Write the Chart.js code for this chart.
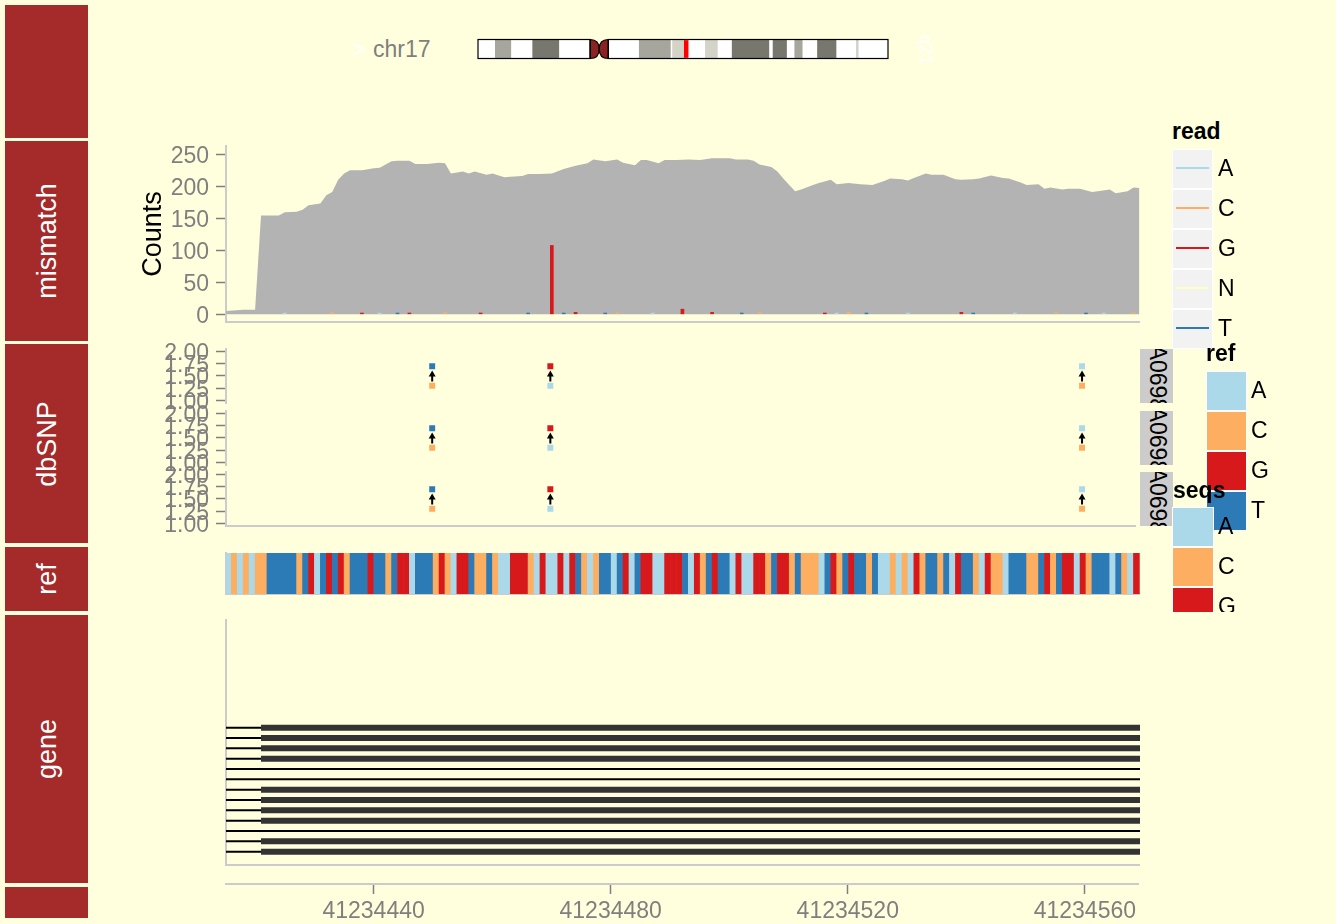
<!DOCTYPE html>
<html>
<head>
<meta charset="utf-8">
<title>chr17 tracks</title>
<script src="https://cdn.jsdelivr.net/npm/chart.js@4.4.1/dist/chart.umd.min.js"></script>
<style>
  html, body { margin: 0; padding: 0; background: #FFFFDD; }
  #wrap { position: relative; width: 1336px; height: 924px; overflow: hidden; font-family: "Liberation Sans", Arial, sans-serif; }
  #wrap canvas { position: absolute; }
  .side { position: absolute; left: 5px; width: 83px; background: #A52A2A; }
  .side span { position: absolute; left: 50%; top: 50%; color: #fff; font-size: 27px; white-space: nowrap;
               transform: translate(-50%, -50%) rotate(-90deg); }
  .txt { position: absolute; white-space: nowrap; font-size: 23px; line-height: 23px; z-index: 5; }
  .facet { position: absolute; left: 1140px; width: 33px; background: #CCCCCC; overflow: hidden; z-index: 3; }
  .facet span { position: absolute; left: 50%; top: 50%; font-size: 23px; line-height: 23px; color: #000;
                white-space: nowrap; transform: translate(-50%, -50%) rotate(90deg); }
  .key { position: absolute; box-sizing: border-box; border: 1px solid #fff; z-index: 5; }
  .clip { position: absolute; overflow: hidden; z-index: 6; }
</style>
</head>
<body>
<div id="wrap"></div>
<script>
// ---- data ----
// ideogram (chr17, Mb)
const chrLength = 81.195;
const bandNames = ['p13.3','p13.2','p13.1','p12','p11.2','p11.1','q11.1','q11.2','q12','q21.1','q21.2','q21.31',
                   'q21.32','q21.33','q22','q23.1','q23.2','q23.3','q24.1','q24.2','q24.3','q25.1','q25.2','q25.3'];
const bandStart = [0, 3.3, 6.5, 10.7, 16.0, 22.2, 24.0, 25.8, 31.8, 38.1, 38.4, 40.9,
                   44.9, 47.4, 50.2, 57.6, 58.3, 61.1, 62.6, 64.2, 67.1, 70.9, 74.8, 75.3];
const bandEnd   = [3.3, 6.5, 10.7, 16.0, 22.2, 24.0, 25.8, 31.8, 38.1, 38.4, 40.9, 44.9,
                   47.4, 50.2, 57.6, 58.3, 61.1, 62.6, 64.2, 67.1, 70.9, 74.8, 75.3, 81.195];
const bandStain = ['gneg','gpos50','gneg','gpos75','gneg','acen','acen','gneg','gpos50','gneg','gpos25','gneg',
                   'gpos25','gneg','gpos75','gneg','gpos75','gneg','gpos50','gneg','gpos75','gneg','gpos25','gneg'];
const markerPos = 41.234;

// shared genomic axis
const xMin = 41234415.1, xMax = 41234569.1;
const xTicks = [41234440, 41234480, 41234520, 41234560];

// mismatch track: coverage [position, count]
const coverage = [
  [41234415,5],[41234418,7],[41234420,7],[41234421,155],[41234424,155],[41234425,160],[41234427,161],
  [41234428,164],[41234429,171],[41234431,174],[41234432,187],[41234433,192],[41234434,211],[41234435,221],
  [41234436,226],[41234438,226],[41234440,229],[41234441,230],[41234443,240],[41234444,241],[41234446,241],
  [41234447,236],[41234449,236],[41234451,238],[41234452,237],[41234453,221],[41234455,224],[41234456,221],
  [41234457,224],[41234459,219],[41234460,221],[41234462,215],[41234463,216],[41234465,217],[41234466,220],
  [41234468,220],[41234470,221],[41234472,228],[41234474,233],[41234475,235],[41234476,237],[41234477,243],
  [41234479,240],[41234481,243],[41234482,238],[41234484,234],[41234485,242],[41234486,242],[41234488,237],
  [41234489,242],[41234491,242],[41234493,243],[41234495,242],[41234497,245],[41234500,245],[41234501,243],
  [41234503,243],[41234504,241],[41234505,235],[41234507,231],[41234508,224],[41234509,213],[41234510,203],
  [41234511,193],[41234512,196],[41234514,203],[41234515,206],[41234517,211],[41234518,204],[41234520,206],
  [41234522,204],[41234524,203],[41234526,209],[41234527,213],[41234529,212],[41234530,210],[41234531,214],
  [41234533,221],[41234534,219],[41234536,219],[41234538,212],[41234539,211],[41234541,212],[41234542,213],
  [41234544,218],[41234546,214],[41234547,213],[41234549,207],[41234550,203],[41234552,204],[41234553,197],
  [41234554,199],[41234556,196],[41234557,197],[41234559,197],[41234561,192],[41234562,193],[41234564,196],
  [41234565,190],[41234567,193],[41234568,199],[41234569,198]
];
const countTicks = [0, 50, 100, 150, 200, 250];
// mismatched read bases [position, count]
const misA = [[41234425,2],[41234441,2],[41234487,2],[41234518,2],[41234530,2],[41234548,2],[41234563,2]];
const misC = [[41234433,2],[41234452,2],[41234481,2],[41234505,2],[41234520,3],[41234555,2],[41234568,2]];
const misG = [[41234438,2],[41234446,2],[41234458,2],[41234470,108],[41234474,3],[41234492,8],[41234497,3],[41234516,2],[41234539,3]];
const misT = [[41234444,2],[41234466,2],[41234472,2],[41234479,2],[41234502,2],[41234523,2],[41234541,2],[41234560,2]];

// dbSNP track
const sampleNames = ['NA06984', 'NA06985', 'NA06986'];
const snpPos = [41234450, 41234470, 41234560];
const snpAlt = ['T', 'G', 'A'];
const snpRef = ['C', 'A', 'C'];
const snpTicks = [1, 1.25, 1.5, 1.75, 2];
const altY = 1.7, refY = 1.3, arrowFrom = 1.39, arrowTo = 1.53;

// reference sequence, first base at refStart
const refStart = 41234415;
const refSeq = ('ACACACCTTT' + 'TTCTGATGTG' + 'CTTTGTTCTG' + 'GATTTCGCAG' + 'GTCCTCAAGG' +
                'GCAGAAGAGT' + 'CACTTATGAT' + 'GGAAGGGTAG' + 'CTGTTAGAAG' + 'GCTGGCTCCC' +
                'ATGCTGTTCT' + 'AACACAGCTT' + 'CTAGTTCAGC' + 'CATTTCCTGC' + 'TGGAGCTTTA' + 'TCAG').split('');

// gene track: transcripts (row 1 on top)
const txRows    = [1, 2, 3, 4, 5, 6, 7, 8, 9, 10, 11, 12, 13];
const txHasExon = [true, true, true, true, false, false, true, true, true, true, false, true, true];
const exonStart = 41234421, exonEnd = 41234592;
const intronStart = 41234300, intronEnd = 41234700;

// legends
const readLevels = ['A', 'C', 'G', 'N', 'T'];
const refLevels = ['A', 'C', 'G', 'T'];
const seqLevels = ['A', 'C', 'G', 'T'];

// ---- colours ----
const baseColor = { A: '#ABD9E9', C: '#FDAE61', G: '#D7191C', N: '#FFFFBF', T: '#2C7BB6' };
const stainColor = { gneg: '#FFFFFF', gpos25: '#D3D3C8', gpos50: '#A6A69C', gpos75: '#77776D', acen: '#8B2323' };
const AXIS_LINE = '#CBCBCB', TICK = '#7F7F7F', LABEL = '#7F7F7F';

Chart.defaults.font.family = '"Liberation Sans", Arial, sans-serif';
Chart.defaults.animation = false;
Chart.defaults.plugins.legend.display = false;
Chart.defaults.plugins.tooltip.enabled = false;

const wrap = document.getElementById('wrap');

function addCanvas(left, top, w, h) {
  const c = document.createElement('canvas');
  c.width = w; c.height = h;
  c.style.left = left + 'px'; c.style.top = top + 'px';
  c.style.width = w + 'px'; c.style.height = h + 'px';
  wrap.appendChild(c);
  return c;
}

function addDiv(cls, css, html, parent) {
  const d = document.createElement('div');
  d.className = cls;
  Object.assign(d.style, css);
  if (html !== undefined) d.innerHTML = html;
  (parent || wrap).appendChild(d);
  return d;
}

function xScale(withLabels) {
  return {
    type: 'linear', min: xMin, max: xMax, offset: false,
    border: { display: true, color: AXIS_LINE, width: 2 },
    grid: { display: withLabels, offset: false, drawOnChartArea: false, tickLength: 10, tickColor: TICK, tickWidth: 1.5 },
    ticks: { display: withLabels, color: LABEL, font: { size: 23 }, padding: 4, maxRotation: 0, autoSkip: false,
             callback: v => String(v) },
    afterBuildTicks: s => { s.ticks = xTicks.map(v => ({ value: v })); },
    afterFit: s => { s.height = withLabels ? 40 : 0; }
  };
}

function yScale(o) {
  const hasTicks = !!o.ticks;
  return {
    type: 'linear', min: o.min, max: o.max, reverse: !!o.reverse, position: 'left',
    border: { display: true, color: AXIS_LINE, width: 2 },
    grid: { display: hasTicks, drawOnChartArea: false, tickLength: 10, tickColor: TICK, tickWidth: 1.5 },
    ticks: { display: hasTicks, color: LABEL, font: { size: 23 }, padding: 7, labelOffset: 2, autoSkip: false,
             callback: o.fmt || (v => String(v)) },
    afterBuildTicks: s => { if (hasTicks) s.ticks = o.ticks.map(v => ({ value: v })); },
    title: o.title ? { display: true, text: o.title, color: '#000', font: { size: 27 }, padding: { top: 4, bottom: 0 } }
                   : { display: false },
    afterFit: s => { s.width = 93; }
  };
}

// ---- left track labels ----
[[5, 133, ''], [141, 200, 'mismatch'], [344, 199, 'dbSNP'], [547, 64, 'ref'], [615, 268, 'gene'], [887, 31, '']]
  .forEach(([top, h, label]) => {
    addDiv('side', { top: top + 'px', height: h + 'px' }, label ? '<span>' + label + '</span>' : '');
  });

// ---- ideogram ----
const ideogramShape = {
  id: 'ideogramShape',
  afterDatasetsDraw(chart) {
    const { ctx, chartArea: a, scales: { x } } = chart;
    const mid = (a.top + a.bottom) / 2;
    const acen = bandStain.map((s, i) => s === 'acen' ? i : -1).filter(i => i >= 0);
    const pEnd = x.getPixelForValue(bandStart[acen[0]]);
    const cen = x.getPixelForValue(bandEnd[acen[0]]);
    const qStart = x.getPixelForValue(bandEnd[acen[1]]);
    const x0 = x.getPixelForValue(0), x1 = x.getPixelForValue(chrLength);
    ctx.save();
    ctx.lineWidth = 1.2;
    ctx.strokeStyle = '#000';
    ctx.fillStyle = stainColor.acen;
    ctx.beginPath();
    ctx.moveTo(pEnd, a.top);
    ctx.quadraticCurveTo(cen, a.top, cen, mid);
    ctx.quadraticCurveTo(cen, a.bottom, pEnd, a.bottom);
    ctx.closePath(); ctx.fill(); ctx.stroke();
    ctx.beginPath();
    ctx.moveTo(qStart, a.top);
    ctx.quadraticCurveTo(cen, a.top, cen, mid);
    ctx.quadraticCurveTo(cen, a.bottom, qStart, a.bottom);
    ctx.closePath(); ctx.fill(); ctx.stroke();
    ctx.strokeRect(x0, a.top, pEnd - x0, a.bottom - a.top);
    ctx.strokeRect(qStart, a.top, x1 - qStart, a.bottom - a.top);
    // current region marker
    const m = x.getPixelForValue(markerPos);
    ctx.strokeStyle = '#FF0000';
    ctx.lineWidth = 4.5;
    ctx.beginPath(); ctx.moveTo(m, a.top + 0.6); ctx.lineTo(m, a.bottom - 0.6); ctx.stroke();
    ctx.restore();
  }
};

new Chart(addCanvas(468, 29, 430, 40), {
  type: 'bar',
  data: {
    labels: ['chr17'],
    datasets: bandNames.map((n, i) => ({
      label: n,
      data: [[bandStart[i], bandEnd[i]]],
      backgroundColor: bandStain[i] === 'acen' ? 'rgba(0,0,0,0)' : stainColor[bandStain[i]],
      borderWidth: 0, barPercentage: 1, categoryPercentage: 1, grouped: false
    }))
  },
  options: {
    indexAxis: 'y', responsive: false, devicePixelRatio: 1,
    layout: { padding: { left: 10, right: 10, top: 10.5, bottom: 10.5 } },
    scales: { x: { type: 'linear', min: 0, max: chrLength, display: false }, y: { display: false } }
  },
  plugins: [ideogramShape]
});

addDiv('txt', { left: '352px', top: '38px', color: '#FFFFFF' }, '&gt;');
addDiv('txt', { left: '373px', top: '38px', color: '#7F7F7F' }, 'chr17');
addDiv('txt', { left: '910px', top: '38px', color: '#FFFFFF', fontSize: '18px', transform: 'rotate(90deg)' }, 'q21');

// ---- mismatch track ----
const misSets = [['A', misA], ['C', misC], ['G', misG], ['T', misT]].map(([b, arr]) => ({
  type: 'bar', label: b,
  data: arr.map(([x, y]) => ({ x: x, y: y })),
  backgroundColor: baseColor[b], borderWidth: 0, barThickness: 3, grouped: false, order: 0
}));

new Chart(addCanvas(133, 122, 1007, 224), {
  type: 'bar',
  data: {
    datasets: misSets.concat([{
      type: 'line', label: 'coverage',
      data: coverage.map(([x, y]) => ({ x: x, y: y })),
      fill: 'origin', backgroundColor: '#B3B3B3', borderColor: '#B3B3B3', borderWidth: 0,
      pointRadius: 0, tension: 0, order: 2
    }])
  },
  options: {
    responsive: false, devicePixelRatio: 1,
    layout: { padding: { top: 24, bottom: 24, left: 0, right: 0 } },
    scales: {
      x: xScale(false),
      y: yScale({ min: -12.1, max: 264.1, ticks: countTicks, title: 'Counts' })
    }
  }
});

// ---- dbSNP track (one facet per sample) ----
const rowTops = [349, 411, 472];
sampleNames.forEach((name, r) => {
  const top = rowTops[r];
  const sets = [
    { label: 'alt', data: snpPos.map(p => ({ x: p, y: altY })), pointStyle: 'rect', pointRadius: 4.2,
      pointBorderWidth: 0, pointBackgroundColor: snpAlt.map(b => baseColor[b]) },
    { label: 'ref', data: snpPos.map(p => ({ x: p, y: refY })), pointStyle: 'rect', pointRadius: 4.2,
      pointBorderWidth: 0, pointBackgroundColor: snpRef.map(b => baseColor[b]) }
  ];
  snpPos.forEach(p => {
    sets.push({
      label: 'arrow', data: [{ x: p, y: arrowFrom }, { x: p, y: arrowTo }], showLine: true,
      borderColor: '#000', borderWidth: 2, pointStyle: 'triangle', pointRadius: [0, 4],
      pointBackgroundColor: '#000', pointBorderColor: '#000', pointBorderWidth: 0
    });
  });
  const xs = xScale(false);
  xs.border.display = (r === sampleNames.length - 1);
  new Chart(addCanvas(133, top - 24, 1007, 54 + 48), {
    type: 'scatter',
    data: { datasets: sets },
    options: {
      responsive: false, devicePixelRatio: 1,
      layout: { padding: { top: 24, bottom: 24, left: 0, right: 0 } },
      scales: { x: xs, y: yScale({ min: 0.95, max: 2.05, ticks: snpTicks, fmt: v => v.toFixed(2) }) }
    }
  });
  addDiv('facet', { top: top + 'px', height: '54px' }, '<span>' + name + '</span>');
});

// ---- reference sequence track ----
new Chart(addCanvas(133, 543, 1007, 61), {
  type: 'bar',
  data: {
    datasets: [{
      label: 'ref',
      data: refSeq.map((b, i) => ({ x: refStart + i + 0.5, y: 1 })),
      backgroundColor: refSeq.map(b => baseColor[b]),
      borderWidth: 0, barPercentage: 1, categoryPercentage: 1
    }]
  },
  options: {
    responsive: false, devicePixelRatio: 1,
    layout: { padding: { top: 10, bottom: 10, left: 0, right: 0 } },
    scales: { x: xScale(false), y: yScale({ min: 0, max: 1 }) }
  }
});

// ---- gene track ----
const geneSets = [];
txRows.forEach((row, i) => {
  geneSets.push({
    label: 'intron', data: [{ x: intronStart, y: row }, { x: txHasExon[i] ? exonStart : intronEnd, y: row }],
    borderColor: '#000', borderWidth: 2, pointRadius: 0, clip: 0
  });
  if (txHasExon[i]) {
    geneSets.push({
      label: 'exon', data: [{ x: exonStart, y: row }, { x: exonEnd, y: row }],
      borderColor: '#333333', borderWidth: 6, pointRadius: 0, clip: 0, borderCapStyle: 'butt'
    });
  }
});

new Chart(addCanvas(133, 610, 1007, 265), {
  type: 'line',
  data: { datasets: geneSets },
  options: {
    responsive: false, devicePixelRatio: 1,
    layout: { padding: { top: 10, bottom: 10, left: 0, right: 0 } },
    scales: { x: xScale(false), y: yScale({ min: -9.42, max: 14.29, reverse: true }) }
  }
});

// ---- genomic position axis ----
new Chart(addCanvas(133, 868, 1007, 56), {
  type: 'line',
  data: { datasets: [] },
  options: {
    responsive: false, devicePixelRatio: 1,
    layout: { padding: { top: 10, bottom: 0, left: 93, right: 0 } },
    scales: { x: xScale(true), y: { display: false, min: 0, max: 1 } }
  }
});

// ---- legends ----
function legendTitle(text, left, cy, parent, offTop) {
  addDiv('txt', { left: left + 'px', top: (cy - 11.5 - (offTop || 0)) + 'px', fontWeight: 'bold', color: '#000' }, text, parent);
}

// read
legendTitle('read', 1172, 131);
readLevels.forEach((b, i) => {
  const top = 148.5 + i * 40;
  const k = addDiv('key', { left: '1172px', top: top + 'px', width: '41px', height: '40px', background: '#F2F2F2', borderWidth: '1.5px' });
  addDiv('', { position: 'absolute', left: '3px', right: '3px', top: '17.5px', height: '2px', background: baseColor[b] }, undefined, k);
  addDiv('txt', { left: '1218px', top: (top + 20 - 11.5) + 'px', color: '#000' }, b);
});

// ref
legendTitle('ref', 1206, 353);
refLevels.forEach((b, i) => {
  const top = 370.5 + i * 40;
  addDiv('key', { left: '1206px', top: top + 'px', width: '41px', height: '40px', background: baseColor[b] });
  addDiv('txt', { left: '1251px', top: (top + 20 - 11.5) + 'px', color: '#000' }, b);
});

// seqs (clipped by its track viewport)
const seqClip = addDiv('clip', { left: '1160px', top: '470px', width: '120px', height: '142px' });
legendTitle('seqs', 13, 490.5, seqClip, 470);
seqLevels.forEach((b, i) => {
  const top = 506.5 + i * 40 - 470;
  addDiv('key', { left: '12px', top: top + 'px', width: '42px', height: '40px', background: baseColor[b] }, undefined, seqClip);
  addDiv('txt', { left: '58px', top: (top + 20 - 11.5) + 'px', color: '#000' }, b, seqClip);
});
</script>
</body>
</html>
